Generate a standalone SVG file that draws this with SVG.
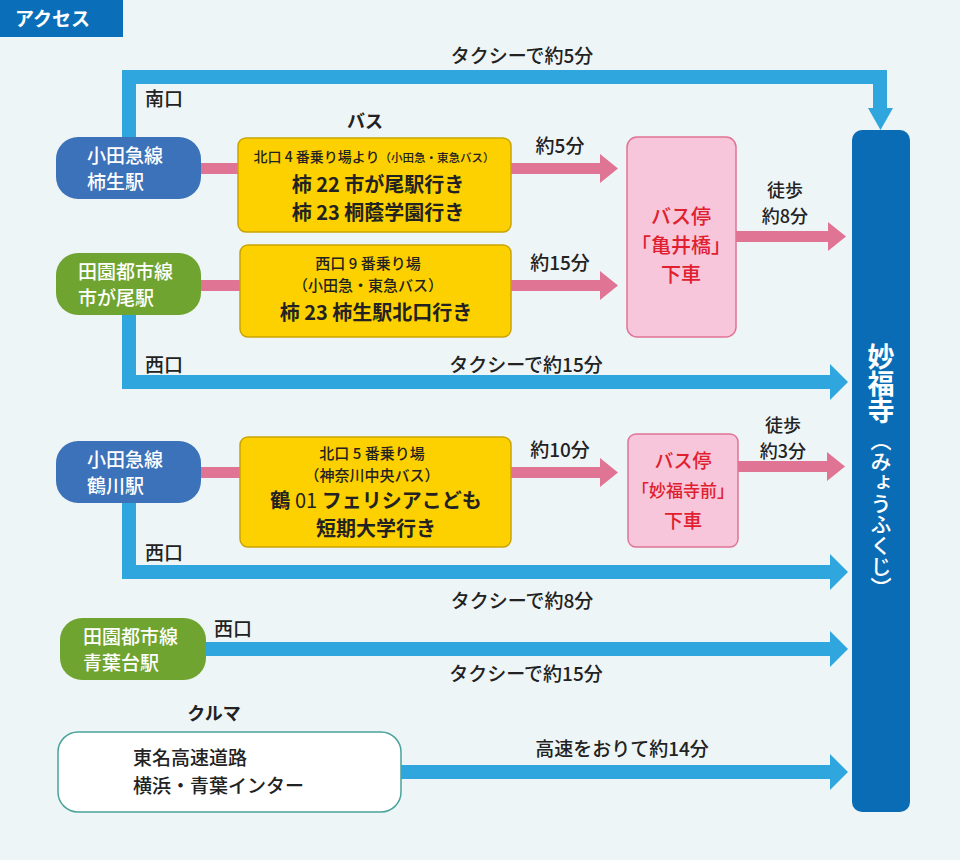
<svg xmlns="http://www.w3.org/2000/svg" width="960" height="860" viewBox="0 0 960 860">
<style>
text{font-family:"Noto Sans CJK JP","Noto Sans",sans-serif;fill:#222;font-weight:500}
.w{fill:#fff}
.c{text-anchor:middle}
.b{font-weight:bold}
.r{fill:#e0202f}
.blue{fill:#2fa6de}
.pink{fill:#e07494}
.bus{fill:#fdd000;stroke:#c9a400;stroke-width:1.5}
.stop{fill:#f7c6da;stroke:#e07494;stroke-width:1.5}
</style>
<rect width="960" height="860" fill="#eef5f6"/>
<rect x="0" y="0" width="123" height="37" fill="#0a6fb8"/>
<text x="15" y="26" class="w b" font-size="19">アクセス</text>

<g id="connectors">
<path class="blue" d="M122 70H887V108H893L880.5 130L868 108H873V84H136V140H122Z"/>
<path class="blue" d="M122 315H136V375H830V364L848 382L830 400V389H122Z"/>
<path class="blue" d="M122 503H136V565H830V554L848 572L830 590V579H122Z"/>
<path class="blue" d="M206 642H830V631L848 649L830 667V656H206Z"/>
<path class="blue" d="M401 765H830V754L848 772L830 790V779H401Z"/>
<rect class="pink" x="201" y="163" width="37" height="11"/>
<rect class="pink" x="201" y="280" width="39" height="11"/>
<rect class="pink" x="201" y="467" width="39" height="11"/>
<path class="pink" d="M511 163H600V154L618 168.5L600 183V174H511Z"/>
<path class="pink" d="M511 280H600V271L618 285.5L600 300V291H511Z"/>
<path class="pink" d="M511 467H600V458L618 472.5L600 487V478H511Z"/>
<path class="pink" d="M736 231H828V222L846 236.5L828 251V242H736Z"/>
<path class="pink" d="M738 461H827V452L845 466.5L827 481V472H738Z"/>
</g>

<g id="temple">
<rect x="852" y="130" width="58" height="682" rx="10" fill="#0a6cb5"/>
<text x="881" y="343" class="w b" font-size="27" style="writing-mode:vertical-rl">妙福寺</text>
<text x="881" y="430" class="w" font-size="21" style="writing-mode:vertical-rl">（みょうふくじ）</text>
</g>

<g id="st1"><rect x="56" y="137" width="145" height="62" rx="22" fill="#3c72b9"/>
<text x="87" y="163" class="w" font-size="19">小田急線</text><text x="87" y="189" class="w" font-size="19">柿生駅</text></g>
<g id="st2"><rect x="56" y="253" width="145" height="62" rx="22" fill="#6fa431"/>
<text x="78" y="279" class="w" font-size="19">田園都市線</text><text x="78" y="305" class="w" font-size="19">市が尾駅</text></g>
<g id="st3"><rect x="56" y="441" width="145" height="62" rx="22" fill="#3c72b9"/>
<text x="87" y="467" class="w" font-size="19">小田急線</text><text x="87" y="493" class="w" font-size="19">鶴川駅</text></g>
<g id="st4"><rect x="60" y="618" width="146" height="62" rx="22" fill="#6fa431"/>
<text x="83" y="644" class="w" font-size="19">田園都市線</text><text x="83" y="670" class="w" font-size="19">青葉台駅</text></g>
<g id="car"><rect x="58" y="732" width="343" height="80" rx="20" fill="#fff" stroke="#4aa39a" stroke-width="1.5"/>
<text x="133" y="765" font-size="19">東名高速道路</text><text x="133" y="793" font-size="19">横浜・青葉インター</text></g>

<g id="bus1"><rect class="bus" x="238" y="138" width="273" height="94" rx="8"/>
<text x="374" y="162" class="c" font-size="14">北口 4 番乗り場より<tspan font-size="11.5">（小田急・東急バス）</tspan></text>
<text x="378" y="192" class="c b" font-size="20">柿 22 市が尾駅行き</text>
<text x="378" y="220" class="c b" font-size="20">柿 23 桐蔭学園行き</text></g>
<g id="bus2"><rect class="bus" x="240" y="245" width="271" height="92" rx="8"/>
<text x="368" y="269" class="c" font-size="15">西口 9 番乗り場</text>
<text x="368" y="291" class="c" font-size="15">（小田急・東急バス）</text>
<text x="376" y="320" class="c b" font-size="20">柿 23 柿生駅北口行き</text></g>
<g id="bus3"><rect class="bus" x="240" y="437" width="271" height="110" rx="8"/>
<text x="372" y="459" class="c" font-size="15">北口 5 番乗り場</text>
<text x="372" y="481" class="c" font-size="15">（神奈川中央バス）</text>
<text x="376" y="508" class="c b" font-size="20">鶴 <tspan font-weight="normal">01</tspan> フェリシアこども</text>
<text x="376" y="536" class="c b" font-size="20">短期大学行き</text></g>
<g id="stop1"><rect class="stop" x="627" y="137" width="109" height="200" rx="10"/>
<text x="681" y="224" class="c r" font-size="20">バス停</text>
<text x="681" y="253" class="c r" font-size="20">「亀井橋」</text>
<text x="681" y="282" class="c r" font-size="20">下車</text></g>
<g id="stop2"><rect class="stop" x="628" y="434" width="110" height="113" rx="8"/>
<text x="683" y="468" class="c r" font-size="19">バス停</text>
<text x="683" y="497" class="c r" font-size="17">「妙福寺前」</text>
<text x="683" y="528" class="c r" font-size="19">下車</text></g>

<g id="labels">
<text x="522" y="63" class="c" font-size="19">タクシーで約5分</text>
<text x="145" y="106" font-size="19">南口</text>
<text x="365" y="128" class="c b" font-size="18">バス</text>
<text x="560" y="153" class="c" font-size="19">約5分</text>
<text x="560" y="270" class="c" font-size="19">約15分</text>
<text x="785" y="197" class="c" font-size="18">徒歩</text>
<text x="785" y="223" class="c" font-size="18">約8分</text>
<text x="145" y="372" font-size="19">西口</text>
<text x="526" y="372" class="c" font-size="19">タクシーで約15分</text>
<text x="560" y="457" class="c" font-size="19">約10分</text>
<text x="783" y="432" class="c" font-size="18">徒歩</text>
<text x="783" y="458" class="c" font-size="18">約3分</text>
<text x="145" y="560" font-size="19">西口</text>
<text x="522" y="608" class="c" font-size="19">タクシーで約8分</text>
<text x="214" y="636" font-size="19">西口</text>
<text x="526" y="681" class="c" font-size="19">タクシーで約15分</text>
<text x="214" y="720" class="c b" font-size="18">クルマ</text>
<text x="622" y="756" class="c" font-size="19">高速をおりて約14分</text>
</g>
</svg>
